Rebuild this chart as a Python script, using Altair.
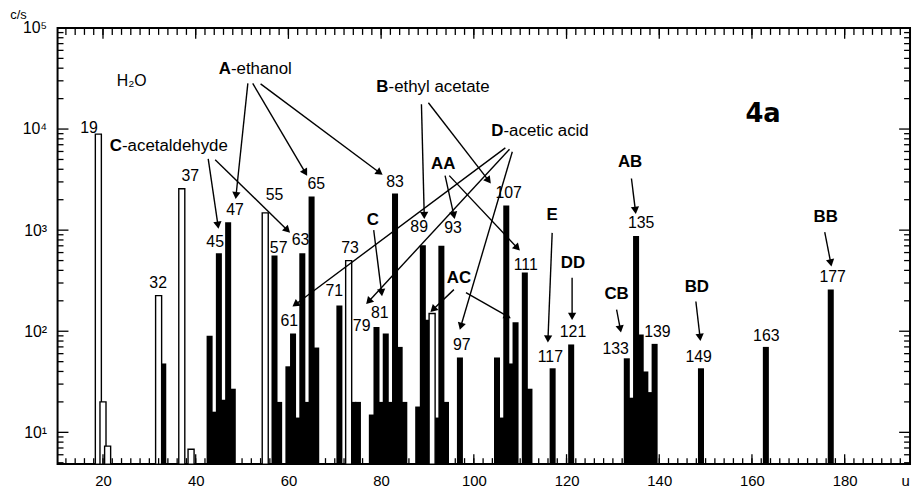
import math
import altair as alt
import pandas as pd

# ---------------- data ----------------
open_mass = [19, 20, 21, 32, 37, 39, 55, 73, 91]
open_cps = [8900, 20, 7.3, 225, 2570, 6.8, 1480, 500, 150]

solid_mass = [33, 43, 44, 45, 46, 47, 48, 57, 58, 60, 61, 62, 63, 64, 65, 66, 71, 74, 75,
              78, 79, 80, 81, 82, 83, 84, 85, 88, 89, 90, 92, 93, 94, 97, 105, 106, 107,
              108, 109, 111, 112, 117, 121, 133, 134, 135, 136, 137, 138, 139, 149, 163, 177]
solid_cps = [48, 90, 16, 590, 21, 1200, 27, 560, 20, 45, 95, 14, 590, 20, 2150, 69, 180, 20, 20,
             15, 110, 20, 95, 20, 2300, 70, 20, 18, 710, 130, 14, 700, 20, 55, 55, 14, 1750,
             48, 123, 380, 27, 43, 74, 54, 22, 873, 93, 40, 25, 75, 43, 70, 258]

peak_text = ["19", "32", "37", "45", "47", "55", "57", "61", "63", "65", "71", "73",
             "79", "81", "83", "89", "93", "97", "107", "111", "117", "121", "133",
             "135", "139", "149", "163", "177"]
peak_x = [17.0, 31.9, 38.85, 44.2, 48.5, 57.0, 57.9, 60.2, 62.6, 66.0, 69.9, 73.3,
          75.8, 79.7, 83.0, 88.2, 95.5, 97.4, 107.5, 111.2, 116.5, 121.4, 130.6,
          136.1, 139.6, 148.5, 163.1, 177.4]
peak_y = [10200, 302, 3460, 762, 1570, 2200, 667, 125, 798, 2890, 247, 667,
          112, 150, 2990, 1070, 1050, 73, 2310, 454, 56, 98, 67,
          1170, 98, 56, 89, 346]

name_letter = ["A", "C", "B", "D"]
name_rest = ["-ethanol", "-acetaldehyde", "-ethyl acetate", "-acetic acid"]
name_x = [47.6, 24.1, 81.6, 106.4]
name_y = [39600, 6800, 25800, 9550]

code_text = ["AA", "C", "AC", "E", "DD", "AB", "CB", "BD", "BB"]
code_x = [93.4, 78.2, 96.8, 116.9, 121.4, 133.7, 130.8, 148.1, 175.9]
code_y = [4540, 1250, 338, 1400, 474, 4740, 231, 276, 1340]

arrow_x1 = [51.25, 52.3, 54.0, 42.7, 44.2, 88.7, 90.2, 106.8, 107.7, 108.3, 93.8, 94.7,
            78.4, 95.7, 98.3, 116.9, 121.2, 134.0, 130.8, 147.9, 175.7]
arrow_y1 = [28300, 28300, 28000, 5080, 4970, 17600, 18200, 6520, 6300, 5960, 3460, 3460,
            1000, 258, 241, 940, 338, 3240, 164, 197, 955]
arrow_x2 = [48.7, 63.65, 79.7, 44.8, 59.8, 89.3, 103.2, 61.5, 77.3, 97.2, 95.7, 109.4,
            80.1, 91.2, 107.3, 116.0, 121.2, 134.85, 131.6, 148.8, 177.0]
arrow_y2 = [2200, 3700, 3700, 1120, 1000, 1400, 3090, 184, 197, 112, 1400, 667,
            241, 164, 140, 84, 140, 1570, 105, 87, 474]

x_labels = [20, 40, 60, 80, 100, 120, 140, 160, 180]
x_minor = list(range(12, 194, 2))
y_labels = [10, 100, 1000, 10000, 100000]
y_minor = [k * 10 ** e for e in range(0, 5) for k in range(2, 10) if k * 10 ** e >= 5]

# ---------------- layout ----------------
W, H = 860, 440
XMIN, XMAX = 10.2, 194.1
YMIN, YMAX = 4.85, 1e5
FONT = "Liberation Sans"

xs = alt.Scale(domain=[XMIN, XMAX], nice=False, zero=False)
ys = alt.Scale(type="log", domain=[YMIN, YMAX], nice=False)

x_axis = alt.Axis(values=x_labels, ticks=False, domain=False, grid=False,
                  labelFontSize=15, labelFont=FONT, labelColor="black", labelPadding=10,
                  title="u", titleFont=FONT, titleFontSize=15, titleFontWeight="normal",
                  titleX=855, titleY=17, titleBaseline="middle", titleAlign="center")
y_axis = alt.Axis(values=y_labels, ticks=False, domain=False, grid=False,
                  labelFontSize=16, labelFont=FONT, labelColor="black", labelPadding=11,
                  labelExpr="'10' + ['\u2070','\u00b9','\u00b2','\u00b3','\u2074','\u2075'][round(log(datum.value)/LN10)]",
                  title="c/s", titleFont=FONT, titleFontSize=13, titleFontWeight="normal",
                  titleAngle=0, titleX=-40, titleY=-20, titleAlign="center",
                  titleBaseline="top")


def X(f):
    return alt.X(f, type="quantitative", scale=xs, axis=x_axis)


def Y(f):
    return alt.Y(f, type="quantitative", scale=ys, axis=y_axis)


solid_df = pd.DataFrame({"mass": solid_mass, "cps": solid_cps})
open_df = pd.DataFrame({"mass": open_mass, "cps": open_cps})

solid = alt.Chart(solid_df).transform_calculate(
    lo="datum.mass - 0.65", hi="datum.mass + 0.65"
).mark_rect(color="black").encode(x=X("lo"), x2="hi", y=Y("cps"), y2=alt.value(H))

opened = alt.Chart(open_df).transform_calculate(
    lo="datum.mass - 0.65", hi="datum.mass + 0.65"
).mark_rect(fill="white", stroke="black", strokeWidth=1.4).encode(
    x=X("lo"), x2="hi", y=Y("cps"), y2=alt.value(H))

# inward ticks
xmaj_df = pd.DataFrame({"t": x_labels})
xmin_df = pd.DataFrame({"t": x_minor})
ymaj_df = pd.DataFrame({"t": y_labels})
ymin_df = pd.DataFrame({"t": y_minor})

tick_layers = []
for df, L in [(xmin_df, 6), (xmaj_df, 10)]:
    tick_layers.append(alt.Chart(df).mark_rule(color="black", strokeWidth=1.3).encode(
        x=X("t"), y=alt.value(H), y2=alt.value(H - L)))
    tick_layers.append(alt.Chart(df).mark_rule(color="black", strokeWidth=1.3).encode(
        x=X("t"), y=alt.value(0), y2=alt.value(L + 1)))
for df, L in [(ymin_df, 6), (ymaj_df, 11)]:
    tick_layers.append(alt.Chart(df).mark_rule(color="black", strokeWidth=1.3).encode(
        y=Y("t"), x=alt.value(0), x2=alt.value(L)))
    tick_layers.append(alt.Chart(df).mark_rule(color="black", strokeWidth=1.3).encode(
        y=Y("t"), x=alt.value(W), x2=alt.value(W - L)))

# arrows
def px(m):
    return (m - XMIN) / (XMAX - XMIN) * W


def py(v):
    return (math.log10(YMAX) - math.log10(v)) / (math.log10(YMAX) - math.log10(YMIN)) * H


angles = []
for a, b, c, d in zip(arrow_x1, arrow_y1, arrow_x2, arrow_y2):
    dx = px(c) - px(a)
    dy = py(d) - py(b)
    angles.append(math.degrees(math.atan2(dx, -dy)) % 360)

arrow_df = pd.DataFrame({"x1": arrow_x1, "y1": arrow_y1, "x2": arrow_x2,
                         "y2": arrow_y2, "ang": angles})
arrow_lines = alt.Chart(arrow_df).mark_rule(color="black", strokeWidth=1.4).encode(
    x=X("x1"), y=Y("y1"), x2="x2", y2="y2")
arrow_heads = alt.Chart(arrow_df).mark_point(
    shape="triangle-up", filled=True, color="black", size=70, opacity=1).encode(
    x=X("x2"), y=Y("y2"), angle=alt.Angle("ang:Q", scale=None))

# texts
peak_df = pd.DataFrame({"t": peak_text, "x": peak_x, "y": peak_y})
peaks = alt.Chart(peak_df).mark_text(font=FONT, fontSize=16, color="black").encode(
    x=X("x"), y=Y("y"), text="t:N")

name_df = pd.DataFrame({"l": name_letter, "r": name_rest, "x": name_x, "y": name_y})
name_l = alt.Chart(name_df).mark_text(font=FONT, fontSize=17, fontWeight="bold",
                                      align="right", color="black").encode(
    x=X("x"), y=Y("y"), text="l:N")
name_r = alt.Chart(name_df).mark_text(font=FONT, fontSize=17, align="left",
                                      color="black").encode(
    x=X("x"), y=Y("y"), text="r:N")

code_df = pd.DataFrame({"t": code_text, "x": code_x, "y": code_y})
codes = alt.Chart(code_df).mark_text(font=FONT, fontSize=17, fontWeight="bold",
                                     color="black").encode(
    x=X("x"), y=Y("y"), text="t:N")

misc_df = pd.DataFrame({"t": ["H\u2082O", "4a"], "x": [26.2, 162.4], "y": [29600, 14000]})
h2o = alt.Chart(misc_df.iloc[[0]]).mark_text(font=FONT, fontSize=16, color="black").encode(
    x=X("x"), y=Y("y"), text="t:N")
fig = alt.Chart(misc_df.iloc[[1]]).mark_text(font="DejaVu Sans", fontSize=26,
                                             fontWeight="bold", color="black").encode(
    x=X("x"), y=Y("y"), text="t:N")

chart = alt.layer(
    solid, opened, *tick_layers, arrow_lines, arrow_heads, peaks, name_l, name_r,
    codes, h2o, fig
).properties(
    width=W, height=H,
    padding={"left": 50, "top": 18, "right": 3, "bottom": 24},
    autosize=alt.AutoSizeParams(type="none"),
    background="white",
).configure_view(stroke="black", strokeWidth=2)

chart.save("out.html", embed_options={"renderer": "svg", "actions": False})
